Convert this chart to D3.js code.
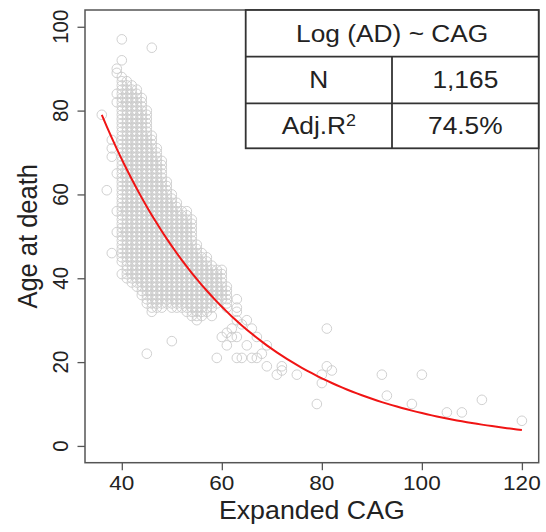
<!DOCTYPE html>
<html>
<head>
<meta charset="utf-8">
<script src="https://cdn.jsdelivr.net/npm/d3@7"></script>
<style>
body{margin:0;background:#fff;}
text{font-family:"Liberation Sans",Arial,sans-serif;fill:#222;}
</style>
</head>
<body>
<svg id="chart" width="546" height="532"></svg>
<script>
// dense part of the cloud: for each CAG column, lowest and highest age seen
const bandCag    = [40,41,42,43,44,45,46,47,48,49,50,51,52,53,54,55,56,57,58,59,60,61];
const bandAgeMin = [44,40,39,38,36,34,32,33,33,34,33,33,33,32,31,30,31,32,33,34,35,33];
const bandAgeMax = [88,87,86,85,83,80,74,71,68,63,60,58,56,56,54,48,46,45,43,42,42,38];

// single points outside the band
const sparseCag = [36,37,38,38,38,38,39,39,39,39,39,39,39,40,40,40,45,46,50,58,59,60,61,61,62,62,
                   63,63,63,63,63,63,64,64,65,65,66,66,67,67,68,69,69,71,72,72,75,79,80,80,81,81,82,
                   92,93,98,100,105,108,112,120];
const sparseAge = [79,61,46,69,71,73,51,56,65,82,84,89,90,41,92,97,22,95,25,31,21,26,24,27,26,28,
                   21,26,30,32,33,35,21,29,24,30,21,28,21,26,22,19,24,17,18,19,17,10,15,17,19,28,18,
                   17,12,10,17,8,8,11,6];

// fitted model: log(AD) = intercept + slope * CAG
const fitIntercept = 5.669;
const fitSlope = -0.0361;
const fitFrom = 36, fitTo = 120;

const xTicks = [40, 60, 80, 100, 120];
const yTicks = [0, 20, 40, 60, 80, 100];
const tableTitle = "Log (AD) ~ CAG";
const tableLabels = ["N", "Adj.R"];
const tableValues = ["1,165", "74.5%"];

const svg = d3.select("#chart");
const pLeft = 85, pRight = 538.7, pTop = 10, pBottom = 462.7;

let x = d3.scaleLinear().domain([32.64, 123.36]).range([pLeft, pRight]);
let y = d3.scaleLinear().domain([-4, 104]).range([pBottom, pTop]);

// build point list
let points = [];
bandCag.forEach((c, i) => {
    for (let a = bandAgeMin[i]; a <= bandAgeMax[i]; a++) points.push([c, a]);
});
sparseCag.forEach((c, i) => points.push([c, sparseAge[i]]));

svg.append("g")
    .selectAll("circle")
    .data(points)
    .join("circle")
    .attr("cx", d => x(d[0]))
    .attr("cy", d => y(d[1]))
    .attr("r", 4.8)
    .attr("fill", "none")
    .attr("stroke", "#cbcbcb")
    .attr("stroke-width", 0.9);

// fitted curve
let fitLine = d3.range(fitFrom, fitTo + 1).map(c => [c, Math.exp(fitIntercept + fitSlope * c)]);
svg.append("path")
    .datum(fitLine)
    .attr("d", d3.line().x(d => x(d[0])).y(d => y(d[1])))
    .attr("fill", "none")
    .attr("stroke", "#f01414")
    .attr("stroke-width", 2);

// axes
let xAxis = svg.append("g")
    .attr("transform", `translate(0,${pBottom})`)
    .call(d3.axisBottom(x).tickValues(xTicks).tickSize(7.5).tickFormat(""));
let yAxis = svg.append("g")
    .attr("transform", `translate(${pLeft},0)`)
    .call(d3.axisLeft(y).tickValues(yTicks).tickSize(7.5).tickFormat(""));
[xAxis, yAxis].forEach(g => {
    g.select(".domain").remove();
    g.selectAll("line").attr("stroke", "#555").attr("stroke-width", 1.3);
});

// frame
svg.append("rect")
    .attr("x", pLeft).attr("y", pTop)
    .attr("width", pRight - pLeft).attr("height", pBottom - pTop)
    .attr("fill", "none").attr("stroke", "#555").attr("stroke-width", 1.5);

// tick labels (slightly wide glyphs like the reference)
svg.append("g").selectAll("text")
    .data(xTicks).join("text")
    .attr("transform", d => `translate(${x(d)},490) scale(1.1,1)`)
    .attr("text-anchor", "middle")
    .style("font-size", "20.5px")
    .text(d => d);

svg.append("g").selectAll("text")
    .data(yTicks).join("text")
    .attr("transform", d => `translate(68,${y(d)}) rotate(-90) scale(1,1.1)`)
    .attr("text-anchor", "middle")
    .style("font-size", "20.5px")
    .text(d => d);

// axis titles
svg.append("text")
    .attr("transform", `translate(${(pLeft + pRight) / 2},519) scale(1.05,1)`)
    .attr("text-anchor", "middle")
    .style("font-size", "25.5px")
    .text("Expanded CAG");

svg.append("text")
    .attr("transform", `translate(37,${(pTop + pBottom) / 2}) rotate(-90) scale(1,1.05)`)
    .attr("text-anchor", "middle")
    .style("font-size", "25.5px")
    .text("Age at death");

// summary table
const tLeft = 245.7, tMid = 392, tRight = pRight;
const rowEdges = [pTop, 56.7, 103.3, 148.3];
let table = svg.append("g");
table.append("rect")
    .attr("x", tLeft).attr("y", pTop)
    .attr("width", tRight - tLeft).attr("height", rowEdges[3] - pTop)
    .attr("fill", "#fff").attr("stroke", "#333").attr("stroke-width", 1.8);
[rowEdges[1], rowEdges[2]].forEach(yy => {
    table.append("line")
        .attr("x1", tLeft).attr("x2", tRight).attr("y1", yy).attr("y2", yy)
        .attr("stroke", "#333").attr("stroke-width", 1.8);
});
table.append("line")
    .attr("x1", tMid).attr("x2", tMid).attr("y1", rowEdges[1]).attr("y2", rowEdges[3])
    .attr("stroke", "#333").attr("stroke-width", 1.8);

table.append("text")
    .attr("transform", `translate(${(tLeft + tRight) / 2},41.5) scale(1.12,1)`)
    .attr("text-anchor", "middle")
    .style("font-size", "23.5px")
    .text(tableTitle);

tableLabels.forEach((lab, i) => {
    let base = rowEdges[i + 1] + 30.8;
    let t = table.append("text")
        .attr("transform", `translate(${(tLeft + tMid) / 2},${base}) scale(1.12,1)`)
        .attr("text-anchor", "middle")
        .style("font-size", "23.5px")
        .text(lab);
    if (i == 1) {
        t.append("tspan").attr("dy", -8).style("font-size", "16px").text("2");
    }
    table.append("text")
        .attr("transform", `translate(${(tMid + tRight) / 2},${base}) scale(1.12,1)`)
        .attr("text-anchor", "middle")
        .style("font-size", "23.5px")
        .text(tableValues[i]);
});
</script>
</body>
</html>
